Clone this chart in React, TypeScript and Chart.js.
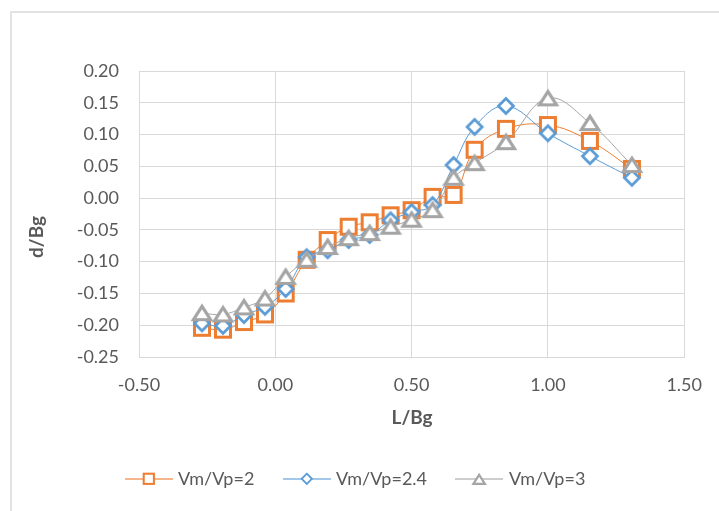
import React, { useEffect, useRef } from 'react';
import { Chart, registerables } from 'chart.js';

Chart.register(...registerables);

// ---- data ----
const xValues = [-0.269, -0.192, -0.115, -0.038, 0.038, 0.115, 0.192, 0.269, 0.346, 0.423, 0.5, 0.577, 0.654, 0.731, 0.846, 1.0, 1.154, 1.308];
const vmVp2 = [-0.204, -0.207, -0.195, -0.183, -0.150, -0.097, -0.066, -0.045, -0.038, -0.027, -0.019, 0.002, 0.005, 0.076, 0.109, 0.115, 0.090, 0.046];
const vmVp24 = [-0.197, -0.201, -0.184, -0.171, -0.143, -0.093, -0.082, -0.066, -0.058, -0.035, -0.022, -0.011, 0.052, 0.112, 0.145, 0.102, 0.066, 0.032];
const vmVp3 = [-0.181, -0.183, -0.172, -0.158, -0.124, -0.097, -0.077, -0.063, -0.055, -0.045, -0.034, -0.019, 0.032, 0.055, 0.088, 0.157, 0.118, 0.052];
const seriesLabels = ['Vm/Vp=2', 'Vm/Vp=2.4', 'Vm/Vp=3'];
const xTitle = 'L/Bg';
const yTitle = 'd/Bg';
const xMin = -0.5, xMax = 1.5, xStep = 0.5;
const yMin = -0.25, yMax = 0.2, yStep = 0.05;

const COLORS = ['#ED7D31', '#5B9BD5', '#A5A5A5'];
const TEXT = '#595959';
const GRID = '#d9d9d9';
const FONT = 'Lato, "Open Sans", sans-serif';

function makeMarker(kind: 'square' | 'diamond' | 'triangle', color: string, s = 1): HTMLCanvasElement {
  const c = document.createElement('canvas');
  const ctx = c.getContext('2d')!;
  if (kind === 'square') {
    c.width = Math.ceil(20 * s); c.height = Math.ceil(20 * s);
    ctx.scale(s, s);
    ctx.fillStyle = '#fff';
    ctx.fillRect(2.5, 2.5, 15, 15);
    ctx.strokeStyle = color; ctx.lineWidth = 3;
    ctx.strokeRect(2.5, 2.5, 15, 15);
  } else if (kind === 'diamond') {
    c.width = Math.ceil(20 * s); c.height = Math.ceil(20 * s);
    ctx.scale(s, s);
    ctx.beginPath();
    ctx.moveTo(10, 2.5); ctx.lineTo(17.5, 10); ctx.lineTo(10, 17.5); ctx.lineTo(2.5, 10); ctx.closePath();
    ctx.fillStyle = '#fff'; ctx.fill();
    ctx.strokeStyle = color; ctx.lineWidth = 2.7; ctx.stroke();
  } else {
    c.width = Math.ceil(24 * s); c.height = Math.ceil(22 * s);
    ctx.scale(s, s);
    ctx.beginPath();
    ctx.moveTo(12, 4.2); ctx.lineTo(20.5, 17.5); ctx.lineTo(3.5, 17.5); ctx.closePath();
    ctx.fillStyle = '#fff'; ctx.fill();
    ctx.strokeStyle = color; ctx.lineWidth = 3.2; ctx.lineJoin = 'miter'; ctx.stroke();
  }
  return c;
}

export default function App() {
  const ref = useRef<HTMLCanvasElement | null>(null);

  useEffect(() => {
    if (!ref.current) return;
    const kinds: ('square' | 'diamond' | 'triangle')[] = ['square', 'diamond', 'triangle'];
    const markers = kinds.map((k, i) => makeMarker(k, COLORS[i]));
    const legendMarkers = kinds.map((k, i) => makeMarker(k, COLORS[i], 0.68));
    const seriesData = [vmVp2, vmVp24, vmVp3];

    const overlay = {
      id: 'overlay',
      afterDraw(chart: any) {
        const ctx = chart.ctx as CanvasRenderingContext2D;
        ctx.save();
        // axis titles
        ctx.fillStyle = TEXT;
        ctx.font = `bold 19px ${FONT}`;
        ctx.textAlign = 'center';
        ctx.textBaseline = 'middle';
        ctx.fillText(xTitle, 412, 418);
        ctx.save();
        ctx.translate(37, 237);
        ctx.rotate(-Math.PI / 2);
        ctx.fillText(yTitle, 0, 0);
        ctx.restore();
        // legend
        const items = [
          { x1: 125, x2: 173, tx: 178 },
          { x1: 283, x2: 331, tx: 336 },
          { x1: 455, x2: 503, tx: 509 },
        ];
        const ly = 479;
        items.forEach((it, i) => {
          ctx.save();
          ctx.strokeStyle = COLORS[i];
          ctx.globalAlpha = 0.75;
          ctx.lineWidth = 1.5;
          ctx.beginPath();
          ctx.moveTo(it.x1, ly);
          ctx.lineTo(it.x2, ly);
          ctx.stroke();
          ctx.restore();
          const m = legendMarkers[i];
          const cx = Math.round((it.x1 + it.x2) / 2);
          ctx.drawImage(m, Math.round(cx - m.width / 2), Math.round(ly - m.height / 2));
          ctx.fillStyle = TEXT;
          ctx.font = `18px ${FONT}`;
          ctx.textAlign = 'left';
          ctx.textBaseline = 'middle';
          ctx.fillText(seriesLabels[i], it.tx, ly);
        });
        ctx.restore();
      },
    };

    const chart = new Chart(ref.current, {
      type: 'line',
      data: {
        datasets: seriesLabels.map((label, i) => ({
          label,
          data: xValues.map((x, j) => ({ x, y: seriesData[i][j] })),
          borderColor: COLORS[i],
          backgroundColor: '#fff',
          borderWidth: 1,
          tension: 0.4,
          pointStyle: markers[i],
          pointRadius: 9,
          pointHoverRadius: 9,
          order: 2 - i,
          fill: false,
        })),
      },
      options: {
        animation: false,
        responsive: false,
        maintainAspectRatio: false,
        devicePixelRatio: 1,
        events: [],
        layout: { padding: { left: 0, top: 71, right: 33, bottom: 0 } },
        plugins: {
          legend: { display: false },
          tooltip: { enabled: false },
          title: { display: false },
        },
        scales: {
          x: {
            type: 'linear',
            min: xMin,
            max: xMax,
            afterFit: (s: any) => { s.height = 154; },
            ticks: {
              stepSize: xStep,
              color: TEXT,
              font: { family: FONT, size: 18 },
              padding: 17,
              callback: (v: any) => Number(v).toFixed(2),
            },
            grid: { color: GRID, lineWidth: 1, drawTicks: false },
            border: { display: true, color: GRID },
          },
          y: {
            type: 'linear',
            min: yMin,
            max: yMax,
            afterFit: (s: any) => { s.width = 139; },
            ticks: {
              stepSize: yStep,
              color: TEXT,
              font: { family: FONT, size: 18 },
              padding: 20,
              callback: (v: any) => Number(v).toFixed(2),
            },
            grid: { color: GRID, lineWidth: 1, drawTicks: false },
            border: { display: true, color: GRID },
          },
        },
      },
      plugins: [overlay],
    } as any);

    return () => chart.destroy();
  }, []);

  return (
    <div style={{ position: 'absolute', left: 0, top: 0, width: 719, height: 511, overflow: 'hidden', background: '#fff' }}>
      <div style={{ position: 'absolute', left: 10, top: 11, width: 800, height: 600, border: '2px solid #e2e2e2', boxSizing: 'border-box' }} />
      <canvas ref={ref} width={719} height={511} style={{ position: 'absolute', left: 0, top: 0, width: 719, height: 511 }} />
    </div>
  );
}
